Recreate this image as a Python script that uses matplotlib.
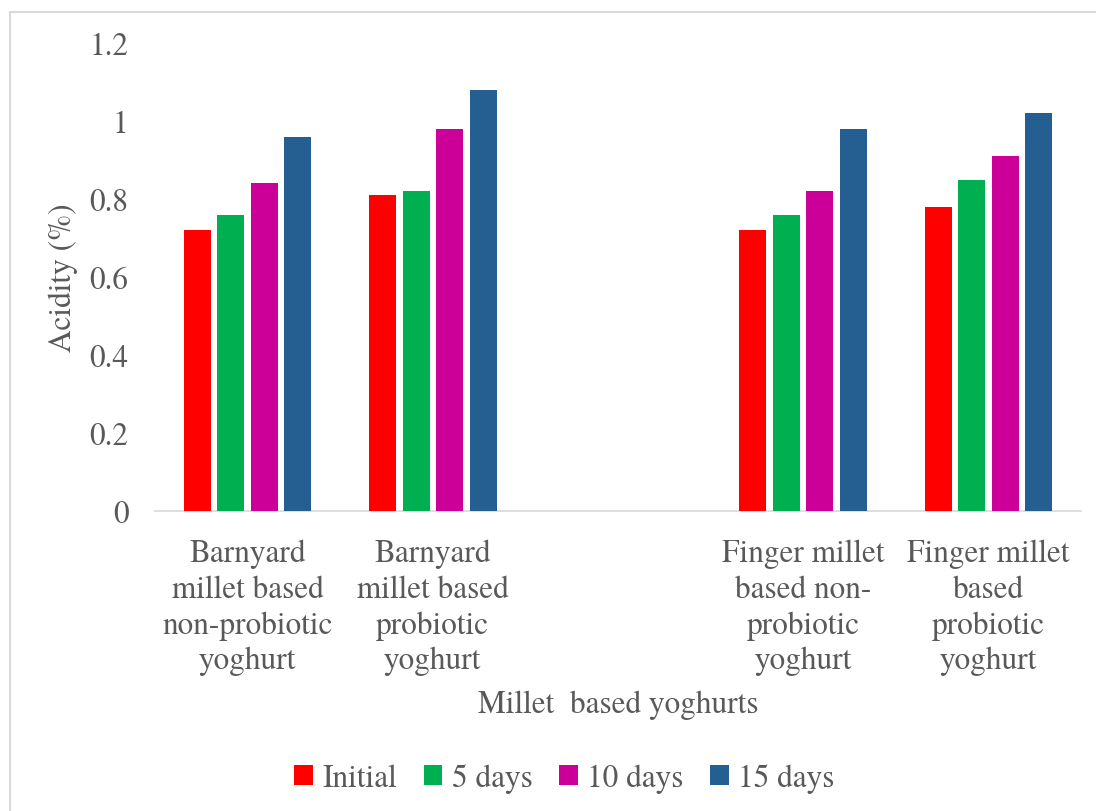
import matplotlib
matplotlib.use("Agg")
import matplotlib.pyplot as plt
from matplotlib.patches import Rectangle
import numpy as np

plt.rcParams['font.family'] = ['TeX Gyre Termes', 'Liberation Serif', 'DejaVu Serif']

categories = [
    "Barnyard\nmillet based\nnon-probiotic\nyoghurt",
    "Barnyard\nmillet based\nprobiotic\nyoghurt",
    "",
    "Finger millet\nbased non-\nprobiotic\nyoghurt",
    "Finger millet\nbased\nprobiotic\nyoghurt",
]
series_names = ["Initial", "5 days", "10 days", "15 days"]
initial = [0.72, 0.81, np.nan, 0.72, 0.78]
days_5 = [0.76, 0.82, np.nan, 0.76, 0.85]
days_10 = [0.84, 0.98, np.nan, 0.82, 0.91]
days_15 = [0.96, 1.08, np.nan, 0.98, 1.02]
yticks = [0, 0.2, 0.4, 0.6, 0.8, 1, 1.2]
ytick_labels = ["0", "0.2", "0.4", "0.6", "0.8", "1", "1.2"]

colors = ["#FF0000", "#00B050", "#CC0099", "#255E91"]
text_color = "#595959"
fs = 22.5

W, H = 1096, 812
fig = plt.figure(figsize=(W / 100, H / 100), dpi=100)

# chart-area frame
fig.patches.append(Rectangle((10 / W, -0.1), 1.2, (H - 13) / H + 0.1,
                             transform=fig.transFigure, fill=False,
                             edgecolor="#D9D9D9", linewidth=1.5))

ax = fig.add_axes([155 / W, 1 - 512 / H, (1081 - 155) / W, (512 - 44) / H])

x = np.arange(len(categories))
step = 0.181
width = 0.146
all_series = [initial, days_5, days_10, days_15]
for i, (vals, name, c) in enumerate(zip(all_series, series_names, colors)):
    ax.bar(x + (i - 1.5) * step, vals, width, color=c, label=name, zorder=3)

ax.set_xlim(-0.5, len(categories) - 0.5)
ax.set_ylim(0, 1.2)
ax.set_yticks(yticks)
ax.set_yticklabels(ytick_labels)
ax.set_xticks(x)
ax.set_xticklabels(categories, linespacing=1.28)

for s in ["top", "right", "left"]:
    ax.spines[s].set_visible(False)
ax.spines["bottom"].set_color("#D9D9D9")
ax.spines["bottom"].set_linewidth(1.2)

ax.tick_params(axis="y", length=0, pad=19, labelsize=fs, labelcolor=text_color)
ax.tick_params(axis="x", length=0, pad=20, labelsize=fs, labelcolor=text_color)

ax.set_ylabel("Acidity (%)", fontsize=fs, color=text_color)
ax.yaxis.set_label_coords(-0.083, 0.5)
fig.text((155 + 1081) / 2 / W, 1 - 705 / H, "Millet  based yoghurts",
         ha="center", va="center", fontsize=fs, color=text_color)

leg = fig.legend(loc="center", bbox_to_anchor=(0.515, 1 - 779 / H), ncol=4,
                 frameon=False, fontsize=fs, handlelength=0.6, handleheight=0.6,
                 handletextpad=0.3, columnspacing=0.85)
for t in leg.get_texts():
    t.set_color(text_color)

fig.savefig("out.png", dpi=100)
